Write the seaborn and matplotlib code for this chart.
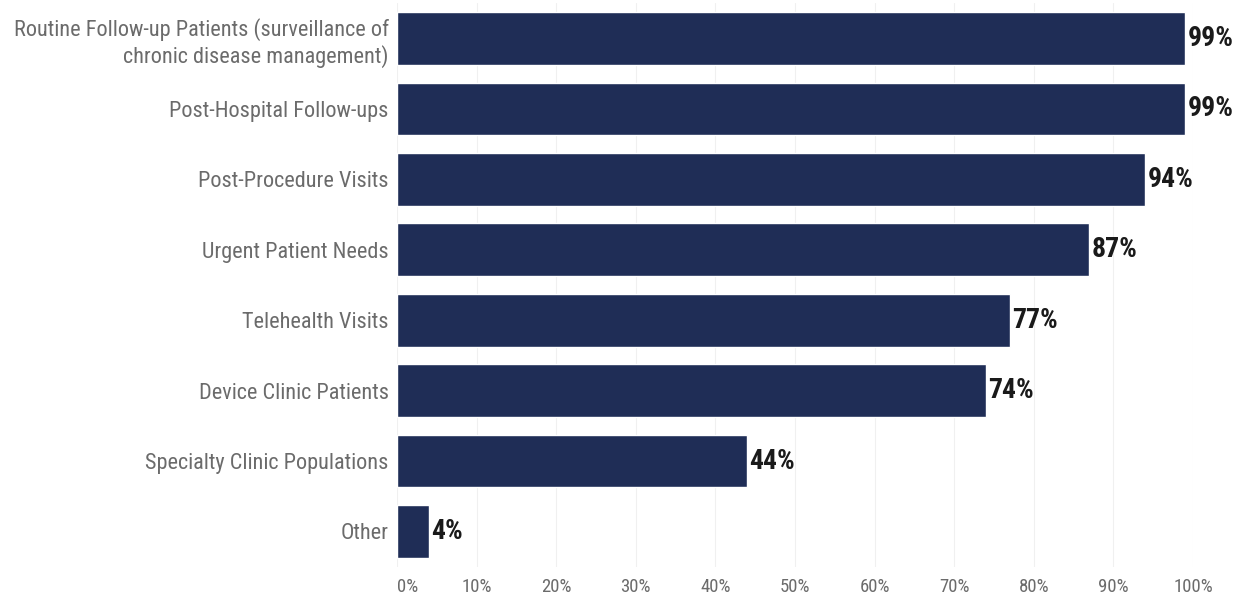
import matplotlib
matplotlib.use("Agg")
import matplotlib.pyplot as plt
from matplotlib import font_manager
import seaborn as sns
import pandas as pd

# data
categories = ["Routine Follow-up Patients (surveillance of\nchronic disease management)",
              "Post-Hospital Follow-ups",
              "Post-Procedure Visits",
              "Urgent Patient Needs",
              "Telehealth Visits",
              "Device Clinic Patients",
              "Specialty Clinic Populations",
              "Other"]
values = [99, 99, 94, 87, 77, 74, 44, 4]
ticks = [0, 10, 20, 30, 40, 50, 60, 70, 80, 90, 100]

df = pd.DataFrame({"category": categories, "value": values})

sns.set_theme(style="white")

# look for a narrow face, the reference uses a condensed font
names = {f.name for f in font_manager.fontManager.ttflist}
narrow = None
for cand in ["Roboto Condensed", "Liberation Sans Narrow", "Open Sans Condensed",
             "DejaVu Sans Condensed", "Noto Sans Condensed"]:
    if cand in names:
        narrow = cand
        break
if narrow is None:
    for f in font_manager.fontManager.ttflist:
        if ("Condensed" in f.name or "Narrow" in f.name) and "Mono" not in f.name:
            narrow = f.name
            break

if narrow is not None:
    plt.rcParams["font.family"] = [narrow, "DejaVu Sans"]
    lab_size, tick_size, val_size = 16, 13.5, 20
else:
    plt.rcParams["font.family"] = ["Roboto", "DejaVu Sans"]
    lab_size, tick_size, val_size = 13.5, 12, 18

fig = plt.figure(figsize=(12.58, 6.06), dpi=100)
ax = fig.add_axes([0.3156, 0.0649, 0.6327, 0.9297])

sns.barplot(data=df, x="value", y="category", color="#1f2d56", saturation=1,
            width=0.75, ax=ax)

ax.set_xlim(0, 100)
ax.set_ylim(len(categories) - 0.5, -0.5)
ax.set_xticks(ticks)
ax.set_xticklabels([f"{t}%" for t in ticks], color="#6b6b6b", fontsize=tick_size)
ax.get_xticklabels()[0].set_ha("left")
ax.tick_params(axis="x", length=0, pad=8)
ax.tick_params(axis="y", length=0, pad=6, labelsize=lab_size, labelcolor="#6b6b6b")
ax.set_xlabel("")
ax.set_ylabel("")
ax.xaxis.grid(True, color="#f0f0f0", linewidth=0.8)
ax.set_axisbelow(True)
for s in ax.spines.values():
    s.set_visible(False)

for i, v in enumerate(values):
    ax.text(v + 0.3, i, f"{v}%", va="center", ha="left", fontsize=val_size,
            fontweight="bold", color="#1a1a1a")

fig.savefig("out.png", dpi=100)
